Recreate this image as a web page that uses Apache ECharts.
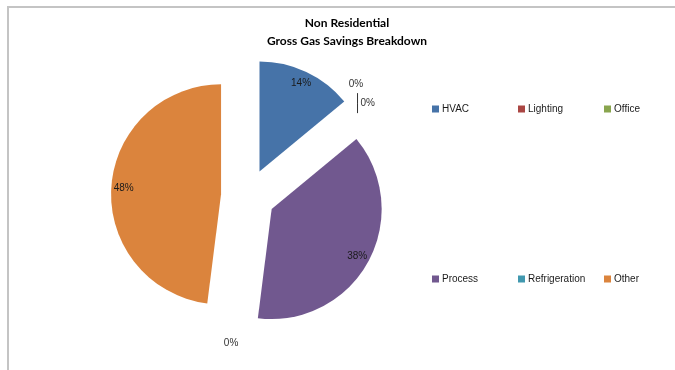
<!DOCTYPE html>
<html>
<head>
<meta charset="utf-8">
<script src="https://cdn.jsdelivr.net/npm/echarts@6/dist/echarts.min.js"></script>
<style>html,body{margin:0;padding:0;background:#fff}#c{width:675px;height:370px}</style>
</head>
<body>
<div id="c"></div>
<script>
var titleLines = ['Non Residential', 'Gross Gas Savings Breakdown'];
var categories = ['HVAC', 'Lighting', 'Office', 'Process', 'Refrigeration', 'Other'];
var shares = [14, 0, 0, 38, 0, 48];
var colors = ['#4673A8', '#AA4643', '#89A54E', '#71588F', '#4198AF', '#DB843D'];
var legendRows = [['HVAC', 'Lighting', 'Office'], ['Process', 'Refrigeration', 'Other']];

var FONT = 'Liberation Sans';
var R = 110, OFF = 27, CENTER = [248, 196];

// nudges for the zero-share labels (Excel places them loosely)
var zeroLabelShift = { 1: [-17, -22], 2: [-12, -15], 4: [17, 7] };

var mainData = categories.map(function (c, i) {
  var zero = shares[i] === 0;
  return {
    name: c, value: shares[i], selected: true,
    itemStyle: { color: colors[i] },
    label: zero ? { show: true, position: 'outside' } : { show: false },
    labelLine: { show: zero && i === 2 }
  };
});
var labelData = categories.map(function (c, i) {
  return {
    name: c, value: shares[i], selected: true,
    label: { show: shares[i] > 0 }
  };
});

var legendCols = [432, 518, 604];
var legendTops = [104, 274];
var legends = [];
legendRows.forEach(function (row, r) {
  row.forEach(function (name, k) {
    legends.push({
      data: [name], left: legendCols[k], top: legendTops[r],
      itemWidth: 7, itemHeight: 7, icon: 'rect', selectedMode: false,
      padding: 0,
      textStyle: { fontFamily: FONT, fontSize: 10, color: '#1a1a1a', padding: [0, 0, 0, -2] }
    });
  });
});

var chart = echarts.init(document.getElementById('c'), null, { renderer: 'canvas' });
chart.setOption({
  animation: false,
  color: colors,
  title: {
    text: titleLines.join('\n'),
    left: 342, top: 9, textAlign: 'center',
    textStyle: { fontFamily: "'Liberation Sans Narrow', Lato, sans-serif", fontSize: 12, fontWeight: 'bold', color: '#000', lineHeight: 18 }
  },
  legend: legends,
  graphic: [{
    type: 'polyline', silent: true,
    shape: { points: [[8, 370], [8, 7], [675, 7]] },
    style: { stroke: '#c4c4c4', lineWidth: 2, fill: null }
  }],
  series: [{
    type: 'pie', name: 'main',
    center: CENTER, radius: R,
    startAngle: 90, clockwise: true,
    selectedMode: 'multiple', selectedOffset: OFF,
    avoidLabelOverlap: true,
    itemStyle: { borderWidth: 0 },
    emphasis: { disabled: true },
    label: {
      formatter: '{d}%', fontFamily: FONT, fontSize: 10, color: '#333'
    },
    labelLine: { length: 4, length2: 4, lineStyle: { color: '#333', width: 1 } },
    labelLayout: function (p) {
      var s = zeroLabelShift[p.dataIndex];
      if (!s) return {};
      var out = { dx: s[0], dy: s[1] };
      if (p.dataIndex === 2 && p.labelRect) {
        var lx = p.labelRect.x + s[0] - 3;
        var ly = p.labelRect.y + s[1];
        var h = p.labelRect.height;
        out.labelLinePoints = [[lx, ly - 5], [lx, ly + h / 2], [lx, ly + h + 5]];
      }
      return out;
    },
    data: mainData
  }, {
    type: 'pie', name: 'labels', silent: true,
    center: CENTER, radius: [R * 0.72, R],
    startAngle: 90, clockwise: true,
    selectedMode: 'multiple', selectedOffset: OFF,
    itemStyle: { color: 'rgba(0,0,0,0)', borderWidth: 0 },
    emphasis: { disabled: true },
    label: {
      position: 'inside', formatter: '{d}%',
      fontFamily: FONT, fontSize: 10, color: '#1a1a1a'
    },
    labelLine: { show: false },
    data: labelData
  }]
});
</script>
</body>
</html>
